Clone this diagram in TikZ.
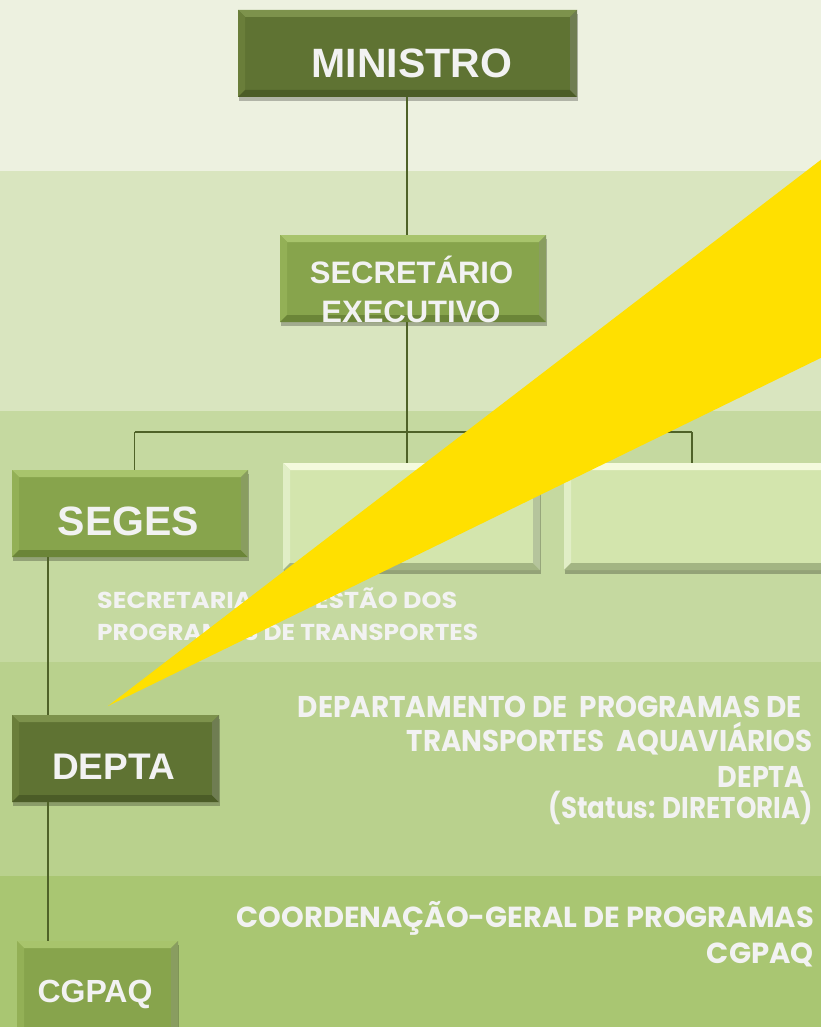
\documentclass[tikz,border=0pt]{standalone}
\usepackage{fontspec}
\usepackage{graphicx}
\setmainfont{Liberation Sans}
\newfontfamily\gothicfam{Poppins}
\newcommand\gfit[2]{\resizebox{#1}{\height}{#2}}
\usetikzlibrary{shadows}
\definecolor{bandA}{HTML}{EDF1E0}
\definecolor{bandB}{HTML}{D9E5BF}
\definecolor{bandC}{HTML}{C5D9A0}
\definecolor{bandD}{HTML}{B9D18D}
\definecolor{bandE}{HTML}{A9C672}
\definecolor{darkbox}{HTML}{5F7333}
\definecolor{darkboxL}{HTML}{7D924C}
\definecolor{darkboxS}{HTML}{6A7E3A}
\definecolor{darkboxD}{HTML}{4B5C27}
\definecolor{midbox}{HTML}{87A44C}
\definecolor{midboxL}{HTML}{A8C46C}
\definecolor{midboxS}{HTML}{93B056}
\definecolor{midboxD}{HTML}{6B8538}
\definecolor{ltbox}{HTML}{D3E5AD}
\definecolor{ltboxL}{HTML}{F4FADD}
\definecolor{ltboxS}{HTML}{E1EEC6}
\definecolor{ltboxD}{HTML}{A3B583}
\definecolor{linecol}{HTML}{4F6228}
\definecolor{wedge}{HTML}{FFE000}
\definecolor{txt}{HTML}{F2F2F2}
\tikzset{
  bevel/.style n args={3}{path picture={
    \fill[#1] (path picture bounding box.north west) -- (path picture bounding box.north east)
      -- ([xshift=-7pt,yshift=-7pt]path picture bounding box.north east)
      -- ([xshift=7pt,yshift=-7pt]path picture bounding box.north west) -- cycle;
    \fill[#2] (path picture bounding box.north west) -- ([xshift=7pt,yshift=-7pt]path picture bounding box.north west)
      -- ([xshift=7pt,yshift=7pt]path picture bounding box.south west)
      -- (path picture bounding box.south west) -- cycle;
    \fill[#3] (path picture bounding box.south west) -- (path picture bounding box.south east)
      -- ([xshift=-7pt,yshift=7pt]path picture bounding box.south east)
      -- ([xshift=7pt,yshift=7pt]path picture bounding box.south west) -- cycle;
    \fill[#3!80!white] (path picture bounding box.north east) -- ([xshift=-7pt,yshift=-7pt]path picture bounding box.north east)
      -- ([xshift=-7pt,yshift=7pt]path picture bounding box.south east)
      -- (path picture bounding box.south east) -- cycle;
  }},
  orgbox/.style={rectangle, inner sep=0pt, draw=none,
    drop shadow={shadow xshift=1pt, shadow yshift=-4pt, fill=black, opacity=0.25}},
  darkorg/.style={orgbox, fill=darkbox, bevel={darkboxL}{darkboxS}{darkboxD}},
  midorg/.style={orgbox, fill=midbox, bevel={midboxL}{midboxS}{midboxD}},
  ltorg/.style={orgbox, fill=ltbox, bevel={ltboxL}{ltboxS}{ltboxD}},
  boxtxt/.style={anchor=base, inner sep=0pt, text=txt, font=\bfseries},
  gtxt/.style={inner sep=0pt, text=txt},
  conn/.style={draw=linecol, line width=1.5pt}
}
\begin{document}
\begin{tikzpicture}[x=1pt,y=-1pt]
\useasboundingbox (0,0) rectangle (821,1027);
\begin{scope}
\clip (0,0) rectangle (821,1027);
% background bands
\fill[bandA] (0,0) rectangle (821,171);
\fill[bandB] (0,171) rectangle (821,411);
\fill[bandC] (0,411) rectangle (821,662);
\fill[bandD] (0,662) rectangle (821,876);
\fill[bandE] (0,876) rectangle (821,1027);

% boxes
\node[darkorg, minimum width=339pt, minimum height=87pt] (min) at (407.5,53.5) {};
\node[midorg, minimum width=266pt, minimum height=87pt] (sec) at (413,278.5) {};
\node[midorg, minimum width=236pt, minimum height=87pt] (seges) at (130,513.5) {};
\node[ltorg, minimum width=257pt, minimum height=107pt] (mid) at (411.5,516.5) {};
\node[ltorg, minimum width=271pt, minimum height=107pt] (rgt) at (699.5,516.5) {};
\node[darkorg, minimum width=207pt, minimum height=87pt] (depta) at (115.5,758.5) {};
\node[midorg, minimum width=161pt, minimum height=99pt] (cgpaq) at (97.5,990.5) {};

% connectors
\coordinate (bar) at (407,432);
\coordinate (barL) at (134.5,432);
\coordinate (barR) at (692,432);
\coordinate (spine) at (48,557);
\draw[conn] (bar |- min.south) -- (bar |- sec.north);
\draw[conn] (bar |- sec.south) -- (bar);
\draw[conn] (barL) -- (barR);
\draw[conn] (barL) -- (barL |- seges.north);
\draw[conn] (bar) -- (bar |- mid.north);
\draw[conn] (barR) -- (barR |- rgt.north);
\draw[conn] (spine) -- (spine |- depta.north);
\draw[conn] (spine |- depta.south) -- (spine |- cgpaq.north);

% box labels
\node[boxtxt, font=\bfseries\fontsize{41}{41}\selectfont] (minT) at (412,78) {MINISTRO};
\node[boxtxt, font=\bfseries\fontsize{31}{31}\selectfont] (secT1) at (411.5,283) {SECRETÁRIO};
\node[boxtxt, font=\bfseries\fontsize{31}{31}\selectfont] (secT2) at (411,322) {EXECUTIVO};
\node[boxtxt, font=\bfseries\fontsize{41}{41}\selectfont] (segesT) at (128.5,535) {SEGES};
\node[boxtxt, font=\bfseries\fontsize{37}{37}\selectfont] (deptaT) at (113.5,779) {DEPTA};
\node[boxtxt, font=\bfseries\fontsize{32}{32}\selectfont] (cgpaqT) at (95,1002) {CGPAQ};

% side texts (under the wedge)
\node[gtxt, anchor=base west, font=\gothicfam\bfseries\fontsize{23}{23}\selectfont] (sg1) at (97,608) {\gfit{360pt}{SECRETARIA DE GESTÃO DOS}};
\node[gtxt, anchor=base west, font=\gothicfam\bfseries\fontsize{23}{23}\selectfont] (sg2) at (97,640) {\gfit{381pt}{PROGRAMAS DE TRANSPORTES}};

% yellow wedge
\fill[wedge] (835,149) -- (108,706) -- (835,351) -- cycle;

\node[gtxt, anchor=base east, font=\gothicfam\bfseries\fontsize{30}{30}\selectfont] (dp1) at (802,717) {\gfit{504pt}{DEPARTAMENTO DE \ PROGRAMAS DE}};
\node[gtxt, anchor=base east, font=\gothicfam\bfseries\fontsize{30}{30}\selectfont] (dp2) at (813,751) {\gfit{406pt}{TRANSPORTES \ AQUAVIÁRIOS}};
\node[gtxt, anchor=base east, font=\gothicfam\bfseries\fontsize{30}{30}\selectfont] (dp3) at (805,787) {\gfit{87pt}{DEPTA}};
\node[gtxt, anchor=base east, font=\gothicfam\bfseries\fontsize{30}{30}\selectfont] (dp4) at (813,818) {\gfit{264pt}{(Status: DIRETORIA)}};
\node[gtxt, anchor=base east, font=\gothicfam\bfseries\fontsize{29}{29}\selectfont] (cg1) at (814,927) {\gfit{577pt}{COORDENAÇÃO-GERAL DE PROGRAMAS}};
\node[gtxt, anchor=base east, font=\gothicfam\bfseries\fontsize{29}{29}\selectfont] (cg2) at (814,963) {\gfit{107pt}{CGPAQ}};
\end{scope}
\end{tikzpicture}
\end{document}
